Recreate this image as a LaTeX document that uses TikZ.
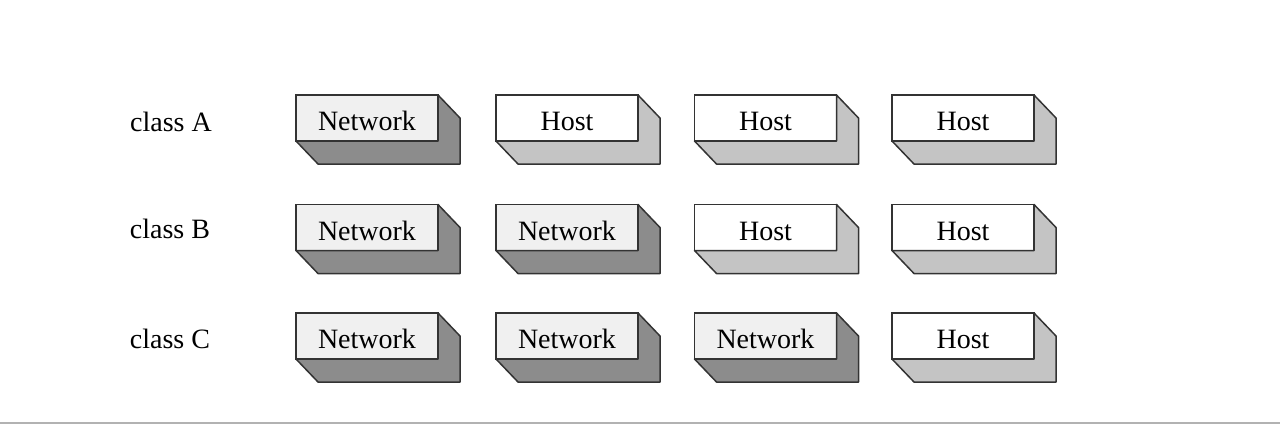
\documentclass[tikz,border=0pt]{standalone}
\usepackage{fontspec}
\setmainfont{Liberation Serif}
\begin{document}
\begin{tikzpicture}[x=1pt,y=-1pt,
  box/.style={draw=black!80, line width=1.5pt, minimum width=142pt, minimum height=46pt,
    inner sep=0pt, outer sep=0pt, text height=25pt, text depth=0pt,
    font=\fontsize{28}{32}\selectfont},
  netbox/.style={box, fill=black!6},
  hostbox/.style={box, fill=white},
  side/.style={draw=black!80, line width=1.5pt, line join=round},
  netside/.style={side, fill=black!45},
  hostside/.style={side, fill=black!23},
  lbl/.style={anchor=base, font=\fontsize{28}{32}\selectfont}]
\useasboundingbox (0,0) rectangle (1280,424);
\fill[black!30] (0,421.5) rectangle (1280,424);
% labels
\node[lbl] (la) at (171,131) {class A};
\node[lbl] (lb) at (170,238) {class B};
\node[lbl] (lc) at (170,348) {class C};
% row A
\node[netbox]  (a1) at (367,118)   {Network};
\node[hostbox] (a2) at (567,118)   {Host};
\node[hostbox] (a3) at (765.5,118) {Host};
\node[hostbox] (a4) at (963,118)   {Host};
% row B
\node[netbox]  (b1) at (367,227.5)   {Network};
\node[netbox]  (b2) at (567,227.5)   {Network};
\node[hostbox] (b3) at (765.5,227.5) {Host};
\node[hostbox] (b4) at (963,227.5)   {Host};
% row C
\node[netbox]  (c1) at (367,336)   {Network};
\node[netbox]  (c2) at (567,336)   {Network};
\node[netbox]  (c3) at (765.5,336) {Network};
\node[hostbox] (c4) at (963,336)   {Host};
% extrusions
\foreach \n/\s in {a1/netside,a2/hostside,a3/hostside,a4/hostside,
                   b1/netside,b2/netside,b3/hostside,b4/hostside,
                   c1/netside,c2/netside,c3/netside,c4/hostside}{
  \draw[\s] (\n.north east) -- ++(22,23) |- ([shift={(22,23)}]\n.south west)
    -- (\n.south west) -- (\n.south east) -- cycle;
}
\end{tikzpicture}
\end{document}
